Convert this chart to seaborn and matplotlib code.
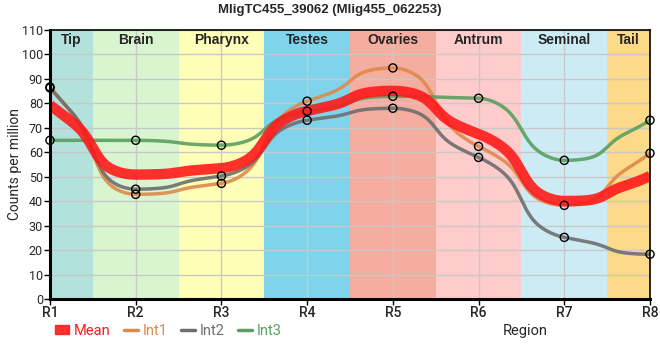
import numpy as np
import pandas as pd
import matplotlib
matplotlib.use("Agg")
import matplotlib.pyplot as plt
from matplotlib.lines import Line2D
from matplotlib.patches import Patch
import seaborn as sns

# ---- data ----
regions = ["R1", "R2", "R3", "R4", "R5", "R6", "R7", "R8"]
int1 = [86.7, 42.8, 47.3, 80.9, 94.5, 62.4, 38.3, 59.6]
int2 = [86.3, 44.9, 50.3, 73.1, 78.0, 57.9, 25.2, 18.3]
int3 = [64.9, 64.9, 62.9, 76.8, 82.9, 82.1, 56.7, 73.1]
band_names = ["Tip", "Brain", "Pharynx", "Testes", "Ovaries", "Antrum", "Seminal", "Tail"]
band_colors = ["#B3E2DD", "#D9F5CF", "#FFFFB8", "#7FD4EC", "#F5ADA0", "#FFCCCC", "#CDEBF5", "#FDD98A"]
series_names = ["Int1", "Int2", "Int3"]
series_colors = ["#DD8A4C", "#6E6E6E", "#5AA060"]
mean_color = "#FF1A1A"
title = "MligTC455_39062 (Mlig455_062253)"


def pchip(x, y, xs):
    x = np.asarray(x, float); y = np.asarray(y, float)
    h = np.diff(x); d = np.diff(y) / h
    n = len(x); m = np.zeros(n)
    for k in range(1, n - 1):
        if d[k - 1] * d[k] > 0:
            w1 = 2 * h[k] + h[k - 1]; w2 = h[k] + 2 * h[k - 1]
            m[k] = (w1 + w2) / (w1 / d[k - 1] + w2 / d[k])
    def end(h0, h1, d0, d1):
        s = ((2 * h0 + h1) * d0 - h0 * d1) / (h0 + h1)
        if np.sign(s) != np.sign(d0):
            s = 0.0
        elif np.sign(d0) != np.sign(d1) and abs(s) > abs(3 * d0):
            s = 3 * d0
        return s
    m[0] = end(h[0], h[1], d[0], d[1])
    m[-1] = end(h[-1], h[-2], d[-1], d[-2])
    idx = np.clip(np.searchsorted(x, xs) - 1, 0, n - 2)
    t = (xs - x[idx]) / h[idx]
    h00 = 2 * t**3 - 3 * t**2 + 1; h10 = t**3 - 2 * t**2 + t
    h01 = -2 * t**3 + 3 * t**2; h11 = t**3 - t**2
    return h00 * y[idx] + h10 * h[idx] * m[idx] + h01 * y[idx + 1] + h11 * h[idx] * m[idx + 1]


def kernel(x, y, xs, s=0.26):
    x = np.asarray(x, float); y = np.asarray(y, float)
    w = np.exp(-((xs[:, None] - x[None, :]) ** 2) / (2 * s * s))
    return (w * y).sum(1) / w.sum(1)


def smooth(x, y, xs, a=0.4):
    return a * kernel(x, y, xs) + (1 - a) * pchip(x, y, xs)


xpos = np.arange(1, len(regions) + 1)
xs = np.linspace(1, len(regions), 800)
mean_vals = np.mean([int1, int2, int3], axis=0)

sns.set_style("ticks")
plt.rcParams["font.family"] = ["Roboto", "DejaVu Sans"]

fig = plt.figure(figsize=(6.6, 3.6), dpi=100)
ax = fig.add_axes([50 / 660, 61 / 360, 600 / 660, 269 / 360])

# bands
edges = [1] + [i + 0.5 for i in range(1, len(regions))] + [len(regions)]
for i, (nm, col) in enumerate(zip(band_names, band_colors)):
    ax.axvspan(edges[i], edges[i + 1], color=col, lw=0, zorder=0)
    ax.text((edges[i] + edges[i + 1]) / 2, 105.9, nm, ha="center", va="center",
            fontsize=10, fontweight="bold", family=["Liberation Sans", "DejaVu Sans"], zorder=5)

# grid
for yv in range(10, 111, 10):
    ax.axhline(yv, color="#C8C8C8", lw=1, zorder=1)
for xv in xpos[1:-1]:
    ax.axvline(xv, color="#C8C8C8", lw=1, zorder=1)

for vals, nm, col in zip([int1, int2, int3], series_names, series_colors):
    df = pd.DataFrame({"x": xs, "y": smooth(xpos, vals, xs)})
    sns.lineplot(data=df, x="x", y="y", ax=ax, color=col, lw=2.5, alpha=0.9, zorder=3)
dfm = pd.DataFrame({"x": xs, "y": smooth(xpos, mean_vals, xs)})
sns.lineplot(data=dfm, x="x", y="y", ax=ax, color=mean_color, lw=7.5, alpha=0.9, zorder=4,
             solid_capstyle="butt")
for vals in [int1, int2, int3]:
    dfp = pd.DataFrame({"x": xpos, "y": vals})
    sns.scatterplot(data=dfp, x="x", y="y", ax=ax, s=34, facecolor="none",
                    edgecolor="black", linewidth=1, zorder=6, clip_on=False)

ax.set_xlim(1, len(regions))
ax.set_ylim(0, 110)
ax.set_xticks(xpos)
ax.set_xticklabels(regions, fontsize=10, fontweight="medium")
ax.set_yticks(range(0, 111, 10))
ax.set_yticklabels([str(v) for v in range(0, 111, 10)], fontsize=9)
ax.tick_params(axis="both", length=4, width=1, pad=1, color="black")
ax.set_xlabel("")
ax.set_ylabel("Counts per million", fontsize=10)
ax.yaxis.set_label_coords(-0.047, 0.5)
for s in ["left", "bottom"]:
    ax.spines[s].set_linewidth(2.2)
for s in ["top", "right"]:
    ax.spines[s].set_linewidth(1.2)
for s in ax.spines.values():
    s.set_color("black"); s.set_zorder(7)

fig.text(0.5, 1 - 10 / 360, title, ha="center", va="center", fontsize=9.5,
         fontweight="bold", family=["Liberation Sans", "DejaVu Sans"])
fig.text(525 / 660, 1 - 331 / 360, "Region", ha="center", va="center", fontsize=10.5)

handles = [Patch(color=mean_color, alpha=0.9)] + [Line2D([0], [0], color=c, lw=2.5) for c in series_colors]
leg = ax.legend(handles, ["Mean"] + series_names, loc="center left", bbox_to_anchor=(0.008, -0.118),
                ncol=4, frameon=False, fontsize=10.5, handlelength=1.0, handleheight=0.55,
                handletextpad=0.3, columnspacing=0.9, borderaxespad=0, borderpad=0)
for txt, c in zip(leg.get_texts(), [mean_color] + series_colors):
    txt.set_color(c)

fig.savefig("out.png", dpi=100)
